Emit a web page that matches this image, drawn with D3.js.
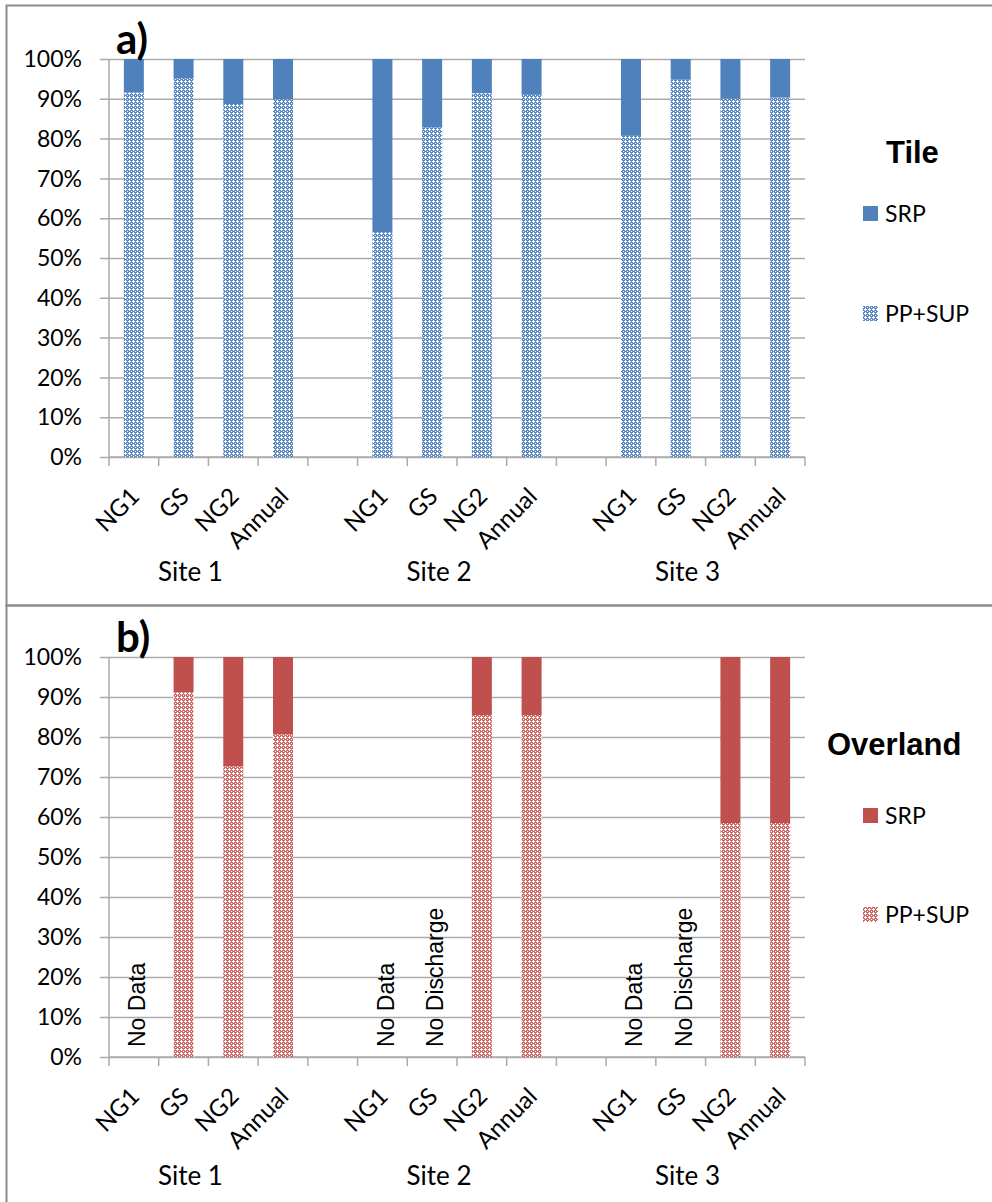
<!DOCTYPE html>
<html>
<head>
<meta charset="utf-8">
<script src="https://cdn.jsdelivr.net/npm/d3@7"></script>
<style>
  html, body { margin: 0; padding: 0; background: #fff; }
  svg { display: block; }
</style>
</head>
<body>
<svg id="chart" width="992" height="1202"></svg>
<script>
// Phosphorus fractions (% of total P) per flow period and site
const sites = ["Site 1", "Site 2", "Site 3"];
const periods = ["NG1", "GS", "NG2", "Annual"];
const yTicks = [0, 10, 20, 30, 40, 50, 60, 70, 80, 90, 100];

// Tile drainage
const tilePPSUP = [91.6, 95.2, 88.7, 89.9, 56.5, 82.8, 91.4, 91.0, 80.7, 94.8, 90.0, 90.3];
const tileSRP   = [8.4, 4.8, 11.3, 10.1, 43.5, 17.2, 8.6, 9.0, 19.3, 5.2, 10.0, 9.7];

// Overland flow (null = no bar)
const overPPSUP = [null, 91.2, 72.7, 80.7, null, null, 85.5, 85.5, null, null, 58.5, 58.5];
const overSRP   = [null, 8.8, 27.3, 19.3, null, null, 14.5, 14.5, null, null, 41.5, 41.5];
const overNotes = ["No Data", null, null, null, "No Data", "No Discharge", null, null, "No Data", "No Discharge", null, null];

const svg = d3.select("#chart");
const defs = svg.append("defs");

const GRID = "#ababab";
const LABEL_FONT = "Lato, 'Open Sans', sans-serif";

// Small cross-hatch tile used for the PP+SUP segments
function makePattern(id, color) {
  const p = defs.append("pattern")
    .attr("id", id)
    .attr("patternUnits", "userSpaceOnUse")
    .attr("width", 4).attr("height", 4);
  p.append("rect").attr("width", 4).attr("height", 4).attr("fill", color);
  p.append("rect").attr("x", 0).attr("y", 1).attr("width", 3).attr("height", 1).attr("fill", "#fff");
  p.append("rect").attr("x", 1).attr("y", 0).attr("width", 1).attr("height", 3).attr("fill", "#fff");
  p.append("rect").attr("x", 3).attr("y", 3).attr("width", 1).attr("height", 1).attr("fill", "#fff");
}
makePattern("hatchBlue", "#5a89c4");
makePattern("hatchRed", "#d06a67");

// Category slots: four periods per site with an empty slot between sites
const slots = [];
sites.forEach((s, si) => {
  periods.forEach((p, pi) => slots.push({ key: s + "|" + p, site: s, period: p, idx: si * 4 + pi }));
  if (si < sites.length - 1) slots.push({ key: "gap" + si, site: null, period: "", idx: null });
});

function drawPanel(cfg) {
  const g = svg.append("g");
  const x = d3.scaleBand().domain(slots.map(d => d.key)).range([109, 805]).padding(0);
  const y = d3.scaleLinear().domain([0, 100]).range([cfg.yBottom, cfg.yTop]);
  const bw = x.bandwidth();
  const barW = 20;

  // panel frame
  g.append("rect")
    .attr("x", 6.5).attr("y", cfg.frameTop)
    .attr("width", 1100).attr("height", cfg.frameH)
    .attr("fill", "none").attr("stroke", "#8c8c8c").attr("stroke-width", 2);

  // horizontal gridlines, extending left past the axis as outward ticks
  const ya = g.append("g").attr("transform", "translate(805,0)");
  ya.call(d3.axisLeft(y).tickValues(yTicks).tickSize(805 - 100).tickFormat(""));
  ya.select(".domain").remove();
  ya.selectAll(".tick line").attr("stroke", GRID).attr("stroke-width", 1.5);

  // y tick labels
  g.append("g").selectAll("text").data(yTicks).join("text")
    .attr("x", 82).attr("y", d => y(d)).attr("dy", "0.36em")
    .attr("text-anchor", "end")
    .attr("font-family", LABEL_FONT).attr("font-size", 23).attr("fill", "#000")
    .text(d => d + "%");

  // y axis line
  g.append("line").attr("x1", 109).attr("x2", 109).attr("y1", y(100)).attr("y2", y(0))
    .attr("stroke", GRID).attr("stroke-width", 1.5);

  // x axis with boundary ticks
  const xa = g.append("g").attr("transform", `translate(0,${y(0)})`);
  xa.append("line").attr("x1", 109).attr("x2", 805).attr("stroke", GRID).attr("stroke-width", 1.5);
  const bounds = slots.map(d => x(d.key)).concat([805]);
  xa.selectAll("line.tk").data(bounds).join("line").attr("class", "tk")
    .attr("x1", d => d).attr("x2", d => d).attr("y1", 0).attr("y2", 9)
    .attr("stroke", GRID).attr("stroke-width", 1.5);

  // bars
  const barData = slots.filter(d => d.idx !== null).map(d => ({
    key: d.key, pp: cfg.pp[d.idx], srp: cfg.srp[d.idx], note: cfg.notes ? cfg.notes[d.idx] : null
  }));
  const bars = g.append("g").selectAll("g").data(barData.filter(d => d.pp !== null)).join("g");
  bars.append("rect")
    .attr("x", d => x(d.key) + (bw - barW) / 2).attr("width", barW)
    .attr("y", d => y(d.pp)).attr("height", d => y(0) - y(d.pp))
    .attr("fill", `url(#${cfg.pattern})`);
  bars.append("rect")
    .attr("x", d => x(d.key) + (bw - barW) / 2).attr("width", barW)
    .attr("y", d => y(d.pp + d.srp)).attr("height", d => y(d.pp) - y(d.pp + d.srp))
    .attr("fill", cfg.solid);

  // notes for empty periods
  g.append("g").selectAll("text").data(barData.filter(d => d.note)).join("text")
    .attr("transform", d => `translate(${x(d.key) + bw / 2 + 3},${y(0) - 10}) rotate(-90)`)
    .attr("dy", "0.36em")
    .attr("font-family", "'Liberation Sans', Arial, sans-serif").attr("font-size", 23)
    .attr("fill", "#000")
    .text(d => d.note);

  // period labels (rotated)
  g.append("g").selectAll("text").data(slots.filter(d => d.idx !== null)).join("text")
    .attr("transform", d => `translate(${x(d.key) + bw / 2 + 7},${y(0) + 41}) rotate(-45)`)
    .attr("text-anchor", "end")
    .attr("font-family", LABEL_FONT).attr("font-size", 24).attr("fill", "#000")
    .text(d => d.period);

  // site labels
  g.append("g").selectAll("text").data(sites).join("text")
    .attr("x", s => {
      const ks = slots.filter(d => d.site === s);
      return (x(ks[0].key) + x(ks[ks.length - 1].key) + bw) / 2 - 18;
    })
    .attr("y", y(0) + cfg.siteDy)
    .attr("text-anchor", "middle")
    .attr("font-family", LABEL_FONT).attr("font-size", 26).attr("fill", "#000")
    .text(s => s);

  // panel letter
  g.append("text").attr("x", 116).attr("y", cfg.yTop - 5)
    .attr("font-family", LABEL_FONT).attr("font-weight", "bold").attr("font-size", 42)
    .attr("fill", "#000").text(cfg.letter);

  // legend
  const lg = g.append("g");
  lg.append("text").attr("x", cfg.legTitleX).attr("y", cfg.legTitleY)
    .attr("font-family", "'Liberation Sans', Arial, sans-serif").attr("font-weight", "bold")
    .attr("font-size", 31).attr("fill", "#000").text(cfg.title);
  const items = [
    { label: "SRP", fill: cfg.solid, cy: cfg.legY1 },
    { label: "PP+SUP", fill: `url(#${cfg.pattern})`, cy: cfg.legY2 }
  ];
  items.forEach(it => {
    lg.append("rect").attr("x", 863).attr("y", it.cy - 8).attr("width", 15).attr("height", 15).attr("fill", it.fill);
    lg.append("text").attr("x", 885).attr("y", it.cy).attr("dy", "0.36em")
      .attr("font-family", LABEL_FONT).attr("font-size", 23).attr("fill", "#000").text(it.label);
  });
}

drawPanel({
  letter: "a)", title: "Tile",
  yTop: 59, yBottom: 457, frameTop: 5.5, frameH: 600,
  pp: tilePPSUP, srp: tileSRP, notes: null,
  solid: "#4f81bd", pattern: "hatchBlue",
  siteDy: 124,
  legTitleX: 886, legTitleY: 163, legY1: 214, legY2: 314
});

drawPanel({
  letter: "b)", title: "Overland",
  yTop: 657, yBottom: 1057, frameTop: 605.5, frameH: 700,
  pp: overPPSUP, srp: overSRP, notes: overNotes,
  solid: "#c0504d", pattern: "hatchRed",
  siteDy: 128,
  legTitleX: 827, legTitleY: 755, legY1: 816, legY2: 915
});
</script>
</body>
</html>
